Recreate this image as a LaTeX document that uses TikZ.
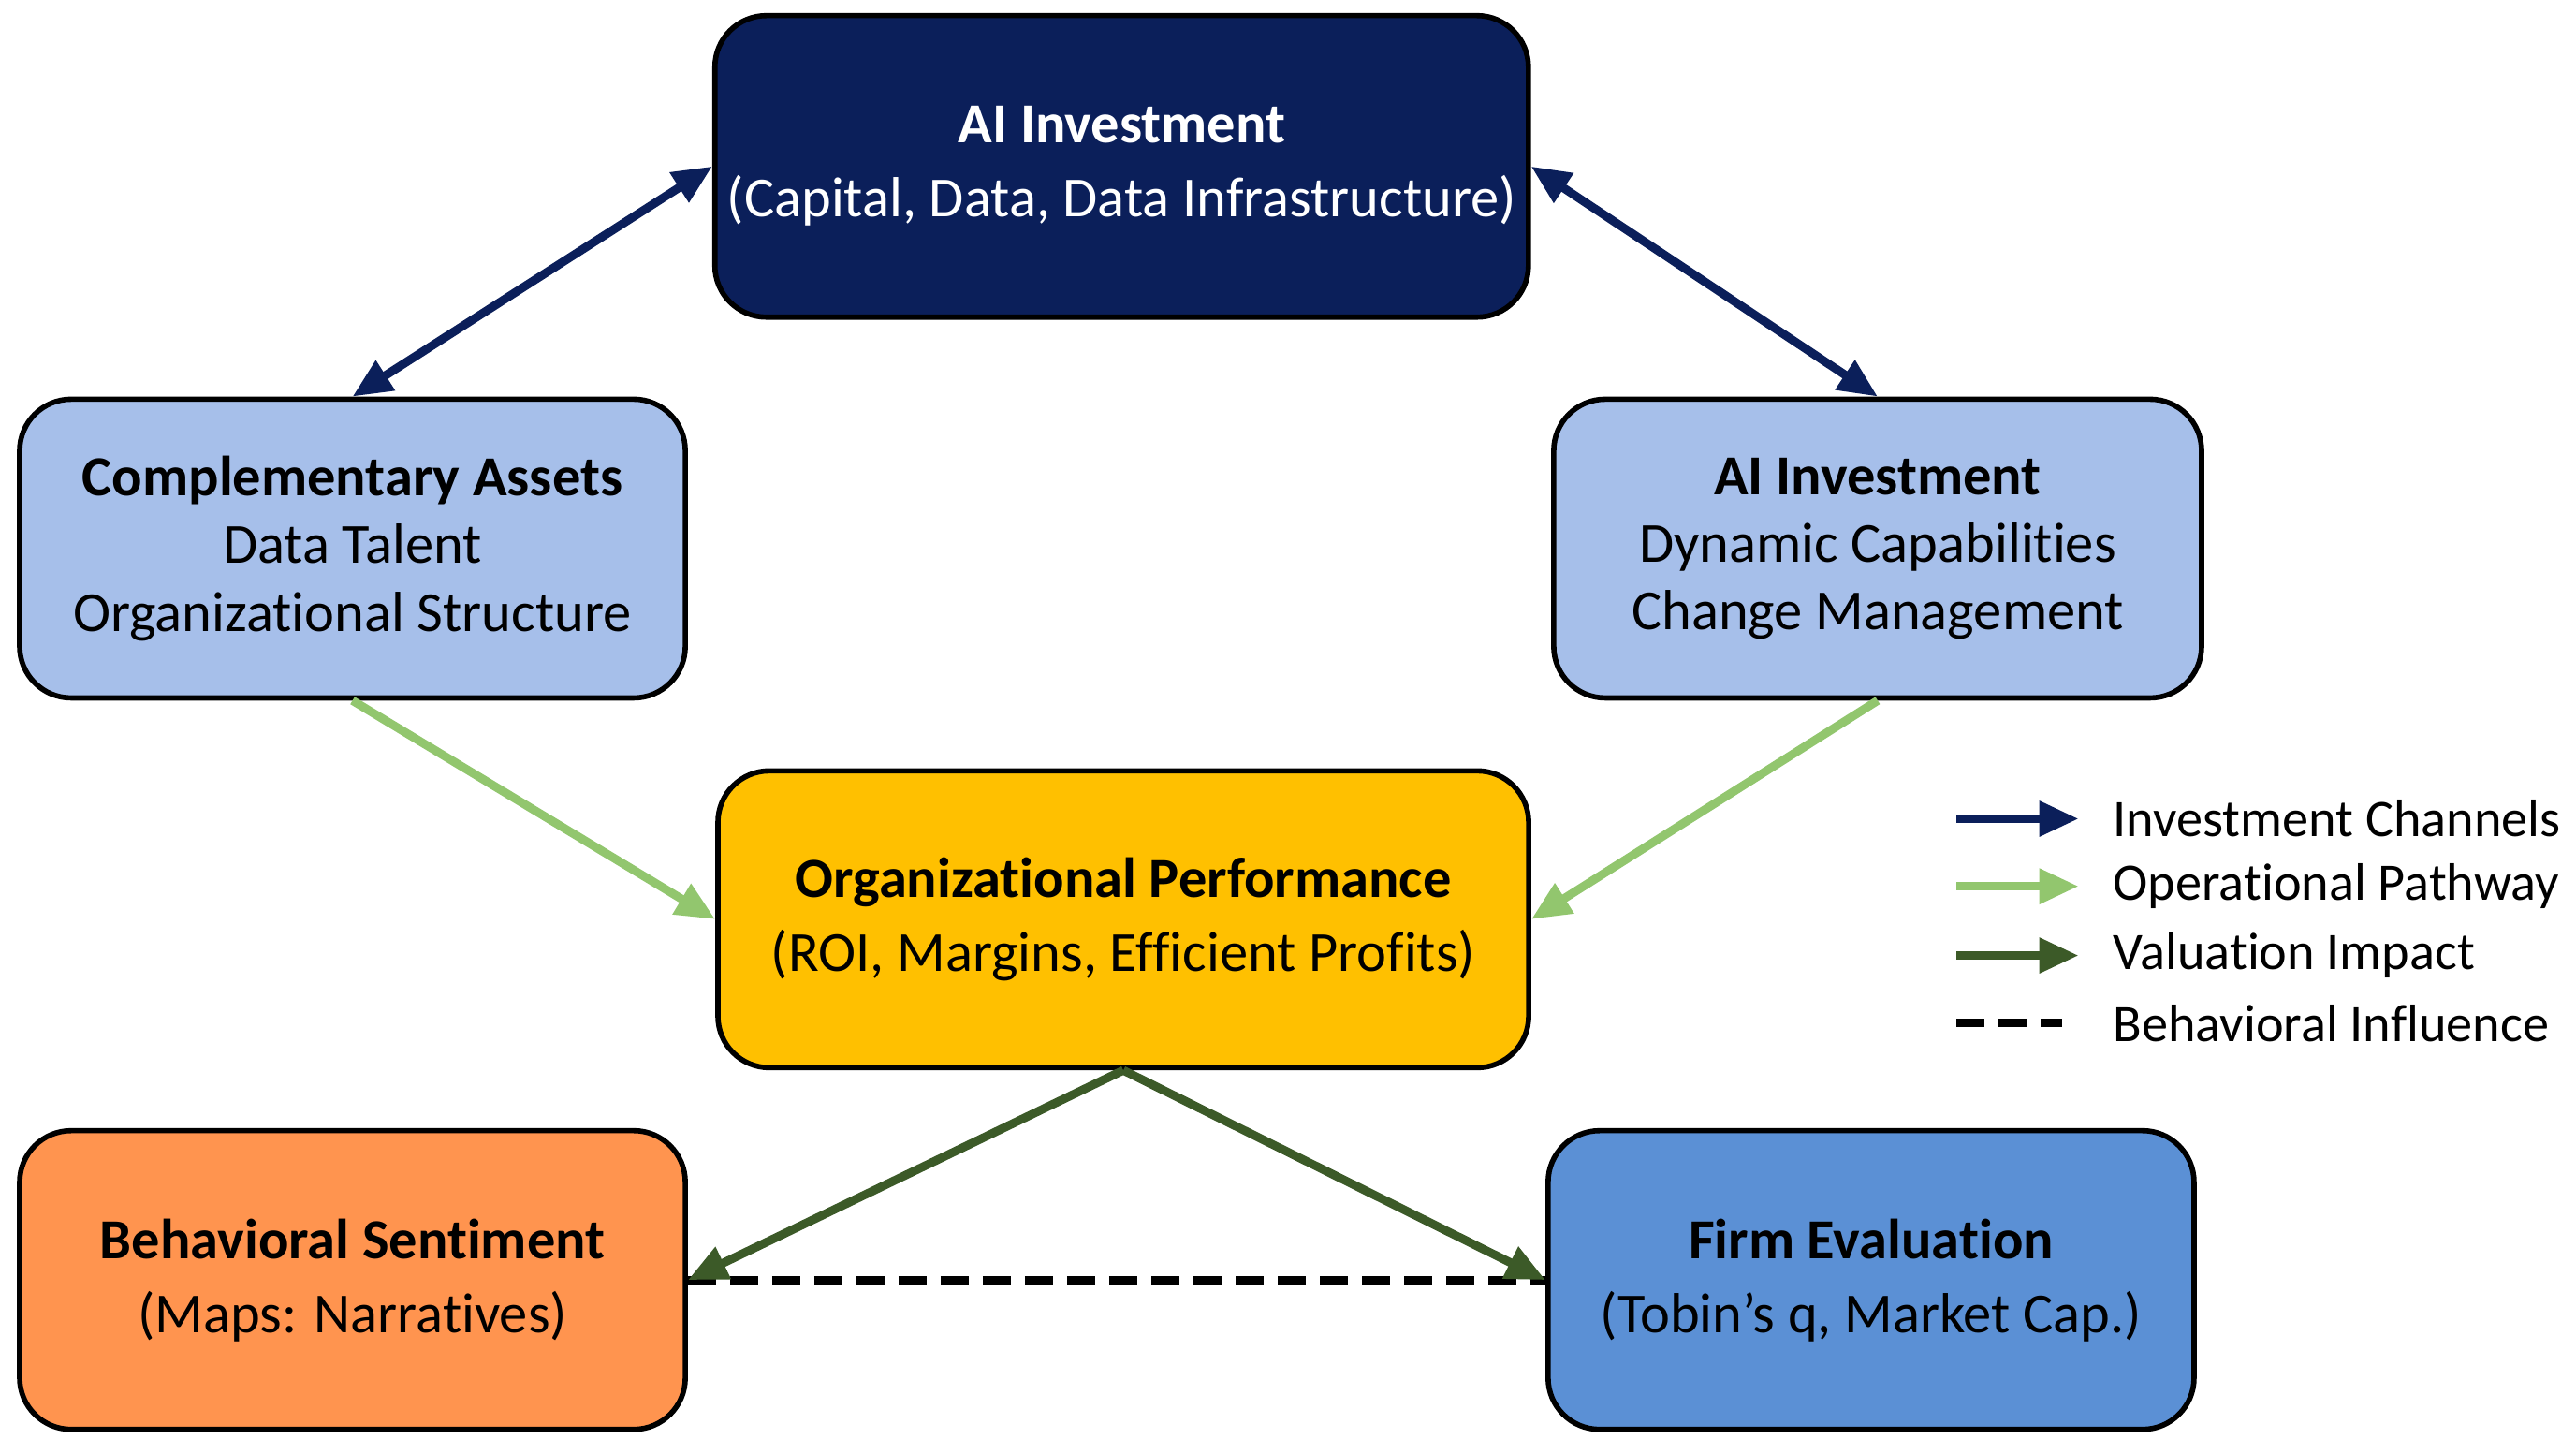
\documentclass[tikz,border=0pt]{standalone}
\usepackage{fontspec}
\setmainfont{Carlito}[Ligatures=NoCommon]
\usetikzlibrary{arrows.meta,positioning}
\definecolor{navy}{HTML}{0B1F5A}
\definecolor{lblue}{HTML}{A6BFEA}
\definecolor{gold}{HTML}{FFC000}
\definecolor{orng}{HTML}{FF944F}
\definecolor{mblue}{HTML}{5B90D5}
\definecolor{lgreen}{HTML}{92C66E}
\definecolor{dgreen}{HTML}{3C5A28}
\tikzset{
  box/.style={draw=black, line width=1.6pt, rounded corners=0.55cm, align=center,
    font=\fontsize{17.2}{20.5}\selectfont, inner sep=0pt},
  inv/.style={line width=2.6pt, draw=navy, {Triangle[length=0.42cm,width=0.36cm]}-{Triangle[length=0.42cm,width=0.36cm]}},
  ops/.style={line width=2.6pt, draw=lgreen, -{Triangle[length=0.42cm,width=0.36cm]}},
  val/.style={line width=2.6pt, draw=dgreen, -{Triangle[length=0.42cm,width=0.36cm]}},
  beh/.style={line width=2.6pt, draw=black, dashed, dash pattern=on 0.3cm off 0.15cm},
  leg/.style={anchor=west, font=\fontsize{16}{20}\selectfont}
}
\begin{document}
\begin{tikzpicture}[x=0.0176cm, y=-0.0176cm]
\useasboundingbox (0,0) rectangle (1564,873);
% boxes
\node[box, fill=navy, text=white, minimum width=8.69cm, minimum height=3.22cm] (top) at (681,101)
  {\textbf{AI Investment}\\[2pt](Capital, Data, Data Infrastructure)};
\node[box, fill=lblue, minimum width=7.11cm, minimum height=3.19cm] (lass) at (214,333)
  {\textbf{Complementary Assets}\\Data Talent\\Organizational Structure};
\node[box, fill=lblue, minimum width=6.92cm, minimum height=3.19cm] (rass) at (1140,333)
  {\textbf{AI Investment}\\Dynamic Capabilities\\Change Management};
\node[box, fill=gold, minimum width=8.66cm, minimum height=3.17cm] (perf) at (682,558)
  {\textbf{Organizational Performance}\\[2pt](ROI, Margins, Efficient Profits)};
\node[box, fill=orng, minimum width=7.11cm, minimum height=3.19cm] (sent) at (214,777)
  {\textbf{Behavioral Sentiment}\\[2pt](Maps: Narratives)};
\node[box, fill=mblue, minimum width=6.9cm, minimum height=3.19cm] (eval) at (1136,777)
  {\textbf{Firm Evaluation}\\[2pt](Tobin’s q, Market Cap.)};
% connectors
\draw[inv] (lass.north) -- (top.west);
\draw[inv] (top.east) -- (rass.north);
\draw[ops] (lass.south) -- (perf.west);
\draw[ops] (rass.south) -- (perf.east);
\draw[beh] (sent.east) -- (eval.west);
\draw[val] (perf.south) -- (sent.east);
\draw[val] (perf.south) -- (eval.west);
% legend
\coordinate (l1a) at (1188,497); \coordinate (l1b) at (1262,497);
\coordinate (l2a) at (1188,538); \coordinate (l2b) at (1262,538);
\coordinate (l3a) at (1188,580); \coordinate (l3b) at (1262,580);
\coordinate (l4a) at (1188,621); \coordinate (l4b) at (1252,621);
\draw[line width=2.6pt, draw=navy, -{Triangle[length=0.42cm,width=0.36cm]}] (l1a) -- (l1b);
\draw[ops] (l2a) -- (l2b);
\draw[val] (l3a) -- (l3b);
\draw[beh] (l4a) -- (l4b);
\node[leg] (t1) at (1276,497) {Investment Channels};
\node[leg] (t2) at (1276,538) {Operational Pathway};
\node[leg] (t3) at (1276,580) {Valuation Impact};
\node[leg] (t4) at (1276,621) {Behavioral Influence};
\end{tikzpicture}
\end{document}
